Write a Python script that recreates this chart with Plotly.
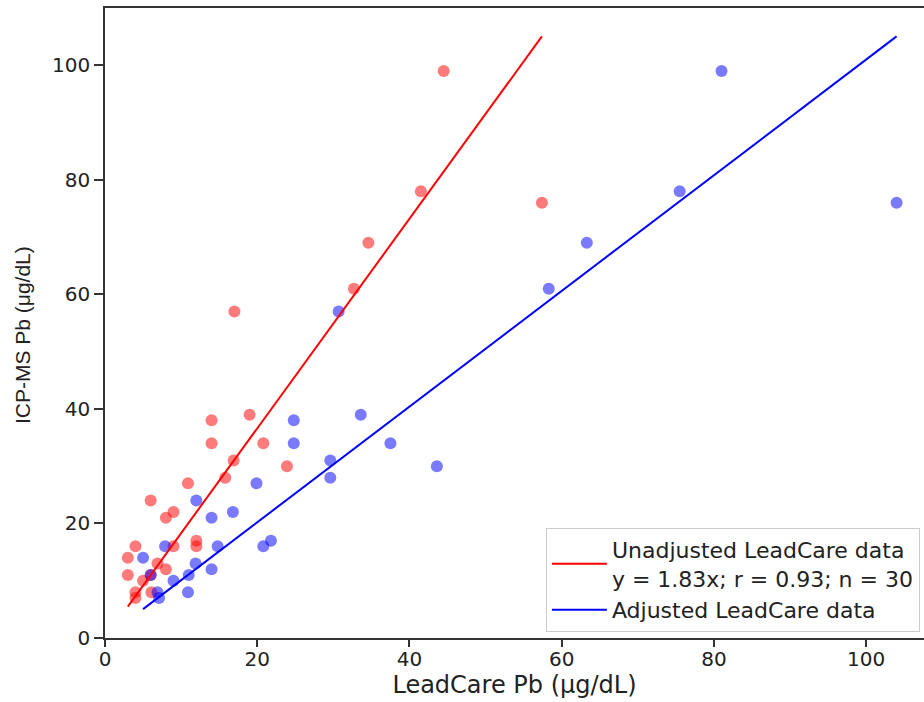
import plotly.graph_objects as go

# ICP-MS Pb (y), LeadCare unadjusted (x) and adjusted (x)
icpms_pb = [99, 78, 76, 69, 61, 57, 39, 38, 34, 34, 31, 30, 28, 27, 24,
            22, 21, 17, 16, 16, 16, 14, 13, 12, 11, 11, 10, 8, 8, 7]
leadcare_unadj = [44.5, 41.5, 57.4, 34.6, 32.7, 17, 19, 14, 14, 20.8, 16.9, 23.9, 15.8, 10.9, 6,
                  9, 8, 12, 12, 9, 4, 3, 6.9, 8, 3, 6, 5, 4, 6.1, 4]
leadcare_adj = [81, 75.5, 104, 63.3, 58.3, 30.7, 33.6, 24.8, 24.8, 37.5, 29.6, 43.6, 29.6, 19.9, 12,
                16.8, 14, 21.8, 20.8, 14.8, 7.9, 5, 11.9, 14, 6, 11, 9, 6.9, 10.9, 7.1]

slope_unadj = 1.83
slope_adj = 1.01

name_unadj = "Unadjusted LeadCare data<br>y = 1.83x; r = 0.93; n = 30"
name_adj = "Adjusted LeadCare data"

x_ticks = [0, 20, 40, 60, 80, 100]
y_ticks = [0, 20, 40, 60, 80, 100]

ux = [min(leadcare_unadj), max(leadcare_unadj)]
ax = [min(leadcare_adj), max(leadcare_adj)]

fig = go.Figure()
fig.add_trace(go.Scatter(x=leadcare_unadj, y=icpms_pb, mode="markers",
                         marker=dict(size=12, color="rgba(255,0,0,0.52)", line=dict(width=0)),
                         showlegend=False))
fig.add_trace(go.Scatter(x=leadcare_adj, y=icpms_pb, mode="markers",
                         marker=dict(size=12, color="rgba(0,0,255,0.52)", line=dict(width=0)),
                         showlegend=False))
fig.add_trace(go.Scatter(x=ux, y=[slope_unadj * v for v in ux], mode="lines",
                         line=dict(color="red", width=2), name=name_unadj))
fig.add_trace(go.Scatter(x=ax, y=[slope_adj * v for v in ax], mode="lines",
                         line=dict(color="blue", width=2), name=name_adj))

axis_common = dict(showgrid=False, zeroline=False, showline=True, linecolor="#333",
                   linewidth=1.5, ticks="outside", tickcolor="#333", tickwidth=1.5,
                   tickfont=dict(family="DejaVu Sans", size=20, color="#222"))

fig.update_xaxes(range=[0, 107.6], tickvals=x_ticks, ticklen=7, mirror=True,
                 ticklabelstandoff=-5,
                 title=dict(text="LeadCare Pb (μg/dL)", standoff=4,
                            font=dict(family="DejaVu Sans", size=24, color="#222")),
                 **axis_common)
fig.update_yaxes(range=[0, 110], tickvals=y_ticks, ticklen=9, mirror=False,
                 **axis_common)

fig.add_annotation(text="ICP-MS Pb (μg/dL)", xref="paper", yref="paper",
                   x=-0.1, y=0.481, xanchor="center", yanchor="middle",
                   textangle=-90, showarrow=False,
                   font=dict(family="Liberation Sans", size=21, color="#222"))

fig.update_layout(
    width=924, height=702,
    margin=dict(l=105, r=0, t=8, b=64),
    paper_bgcolor="white", plot_bgcolor="white",
    legend=dict(x=0.995, y=0.01, xanchor="right", yanchor="bottom",
                bgcolor="rgba(255,255,255,0.9)", bordercolor="#cccccc", borderwidth=1,
                font=dict(family="DejaVu Sans", size=22, color="#222"),
                itemwidth=55, tracegroupgap=2),
)

fig.write_html("out.html")
